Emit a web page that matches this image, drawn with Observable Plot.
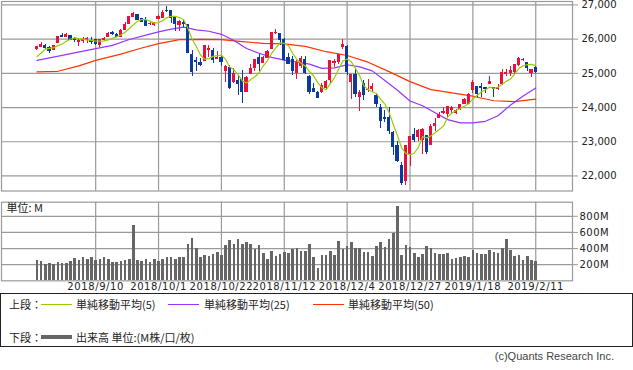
<!DOCTYPE html>
<html><head><meta charset="utf-8">
<script src="https://cdn.jsdelivr.net/npm/d3@7"></script>
<script src="https://cdn.jsdelivr.net/npm/@observablehq/plot@0.6"></script>
<style>
body{margin:0;background:#fff;}
#wrap{position:relative;width:633px;height:370px;overflow:hidden;background:#fff;font-family:"DejaVu Sans",sans-serif;}
#price,#vol{position:absolute;left:0;}
#price{top:0;}
#vol{top:192px;}
#vol g[aria-label="x-axis tick label"] text{letter-spacing:0.6px;}
#vol g[aria-label="y-axis tick label"] text{letter-spacing:0.5px;}
.legend{position:absolute;left:0;top:293px;width:631px;height:52px;border:1px solid #222;font-family:"Noto Sans CJK JP",sans-serif;font-size:11px;color:#222;}
.legend span{position:absolute;line-height:14px;white-space:nowrap;}
.legend i{position:absolute;display:block;}
.copy{position:absolute;right:19px;top:350px;font-family:"Liberation Sans",sans-serif;font-size:11px;color:#444;}
</style></head><body>
<div id="wrap">
  <div id="price"></div>
  <div id="vol"></div>
  <div class="legend">
    <span style="left:8px;top:3px">上段：</span>
    <i style="left:40px;top:10px;width:31px;border-top:1px solid #99cc00"></i>
    <span style="left:75px;top:3px">単純移動平均(5)</span>
    <i style="left:167px;top:10px;width:31px;border-top:1px solid #9933ff"></i>
    <span style="left:203px;top:3px">単純移動平均(25)</span>
    <i style="left:312px;top:10px;width:31px;border-top:1px solid #ff3300"></i>
    <span style="left:347px;top:3px">単純移動平均(50)</span>
    <span style="left:8px;top:36px">下段：</span>
    <i style="left:40px;top:41px;width:31px;border-top:4px solid #666"></i>
    <span style="left:75px;top:36px">出来高 単位:(M株/口/枚)</span>
  </div>
  <div class="copy">(c)Quants Research Inc.</div>
</div>
<script>
// ---- data (DJIA daily, 2018/8/20 - 2019/2/11) ----
const gridIdx = [14, 29, 44, 59, 74, 89, 104, 119];
const dateLabels = ["2018/9/10","2018/10/1","2018/10/22","2018/11/12","2018/12/4","2018/12/27","2019/1/18","2019/2/11"];

const opens = [25700,25772,25810,25730,25685,25880,26094,26061,26090,25990,
25916,25939,25980,25950,25985,25821,25961,26068,26172,26133,
26066,26267,26430,26655,26698,26585,26519,26435,26424,26598,
26627,26833,26810,26636,26404,26467,26422,25522,25367,25301,
25356,25680,25656,25420,25453,25082,25166,24757,24762,24815,
24443,24981,25142,25462,25288,25461,25723,26176,26146,25970,
25441,25388,25003,25220,25397,24900,24550,24420,24450,24560,
24800,25290,25330,25780,25780,24750,24950,24300,24700,24500,
24550,24350,24000,23700,23700,23250,22870,22300,21860,22630,
23200,23150,23060,23176,22900,23474,23680,23850,23800,23940,
23850,23950,24100,24100,24500,24600,24600,24580,24700,24560,
24530,24700,24980,25000,25050,25250,25380,25300,25000,25150];
const highs = [25781,25888,25830,25771,25811,26074,26167,26167,26113,26040,
25998,26055,26035,26036,25998,25985,26039,26201,26211,26173,
26287,26473,26657,26769,26717,26608,26637,26515,26469,26677,
26828,26951,26810,26661,26534,26541,26436,25671,25449,25439,
25800,25800,25726,25641,25500,25230,25216,25147,24916,25076,
24905,25257,25415,25551,25506,25680,26183,26277,26146,26032,
25580,25501,25363,25500,25497,24940,24700,24460,24700,24800,
25380,25410,25540,25980,25800,24950,25150,24500,24800,24830,
24700,24400,24100,23900,24000,23300,23000,22400,22880,23140,
23380,23350,23400,23176,23518,23688,23865,24000,24020,24020,
23950,24100,24250,24400,24800,24600,24700,24600,24900,24600,
24680,25100,25100,25200,25250,25450,25430,25300,25110,25200];
const lows = [25679,25760,25696,25590,25680,25880,26047,26046,25955,25900,
25796,25859,25883,25849,25820,25755,25929,26058,26113,26054,
26062,26267,26430,26655,26533,26473,26370,26396,26374,26598,
26627,26789,26463,26237,26209,26343,25588,24899,25042,25208,
25356,25463,25273,25400,25209,24729,24533,24711,24348,24122,
24443,24981,25066,25065,25275,25455,25723,26129,25827,25338,
25244,24946,24817,25140,24960,24383,24440,24270,24420,24500,
24700,25160,25250,25700,24950,24242,24300,23881,24200,24450,
24450,24000,23400,23550,23200,22600,22400,21712,21712,22270,
22980,23000,22640,22640,22900,23300,23675,23800,23700,23840,
23800,23900,24100,24100,24400,24300,24300,24400,24700,24300,
24500,24650,24900,24900,24950,25200,25350,25050,24880,25000];
const closes = [25759,25822,25734,25657,25790,26050,26064,26125,25987,25965,
25952,25975,25996,25917,25857,25971,25999,26146,26155,26062,
26247,26406,26657,26744,26562,26492,26385,26440,26458,26651,
26774,26828,26627,26447,26487,26431,25599,25053,25340,25251,
25798,25707,25379,25444,25317,25191,24583,24985,24688,24443,
24875,25116,25381,25271,25462,25635,26180,26191,25989,25387,
25286,25081,25289,25413,25017,24466,24465,24286,24640,24749,
25366,25339,25538,25826,25027,24948,24389,24423,24370,24527,
24597,24101,23593,23676,23324,22860,22445,21792,22878,23139,
23062,23327,23346,22686,23433,23531,23787,23879,24002,23996,
23910,24066,24207,24370,24706,24404,24576,24553,24737,24528,
24580,25015,25000,25064,25239,25412,25390,25170,25106,25053];
const volumes = [254,242,200,213,200,225,213,213,242,275,
254,292,267,292,254,267,292,267,225,225,
242,254,267,680,254,242,267,229,267,242,
267,292,292,267,284,292,450,530,400,292,
317,304,329,354,317,442,504,454,517,454,
475,450,392,442,342,267,367,304,329,354,
342,392,404,367,367,454,292,158,317,317,
367,317,492,392,429,475,400,400,354,354,
304,429,475,413,517,592,917,317,442,413,
342,292,329,429,400,342,329,329,342,267,
279,292,304,292,379,342,329,329,379,354,
342,404,517,379,304,317,254,304,254,242];
const ma5 = [25489,25594,25708,25728,25752,25811,25859,25937,26003,26038,
26019,26001,25975,25961,25939,25943,25948,25978,26026,26067,
26122,26203,26305,26423,26523,26572,26568,26525,26467,26485,
26542,26630,26668,26665,26633,26564,26318,26003,25782,25535,
25408,25430,25495,25516,25529,25408,25183,25104,24953,24778,
24715,24821,24901,25017,25221,25373,25586,25748,25891,25876,
25807,25587,25406,25291,25217,25053,24930,24729,24575,24521,
24701,24876,25126,25364,25419,25336,25146,24923,24631,24531,
24461,24404,24238,24099,23858,23511,23180,22819,22660,22623,
22663,22840,23150,23112,23171,23265,23357,23463,23726,23839,
23915,23971,24036,24110,24252,24351,24453,24522,24595,24560,
24595,24683,24772,24837,24980,25146,25221,25255,25263,25226];
const ma25Idx = [0,6,14,18,22,26,29,32,35,38,41,44,47,50,53,56,59,62,65,68,71,74,77,80,83,86,89,92,95,98,101,104,107,110,113,116,119];
const ma25Val = [25380,25526,25722,25819,25990,26116,26211,26290,26349,26273,26230,26141,25959,25727,25587,25468,25388,25331,25271,25145,25160,25251,25187,25072,24792,24507,24191,24051,23847,23646,23550,23549,23598,23758,24076,24337,24571];
const ma50Idx = [0,5,10,14,20,25,29,34,39,44,49,54,59,64,69,74,79,84,89,94,99,104,109,114,119];
const ma50Val = [25040,25060,25220,25380,25560,25740,25868,25985,25995,25985,25928,25875,25859,25786,25632,25521,25326,25049,24757,24522,24428,24331,24199,24175,24246];

const priceTicks = [22000,23000,24000,25000,26000,27000];
const priceTickLabels = ["22,000","23,000","24,000","25,000","26,000","27,000"];
const volTicks = [200,400,600,800];
const volTickLabels = ["200M","400M","600M","800M"];

// ---- build ----
const UP = "#e8103c", DOWN = "#0b3a9e", GRID = "#9a9a9a";
const XDOM = [-8.47, 127.77];
const candles = closes.map((c, i) => ({i, o: opens[i], h: highs[i], l: lows[i], c, col: c >= opens[i] ? UP : DOWN}));
const m25 = ma25Idx.map((x, k) => ({x, y: ma25Val[k]}));
const m50 = ma50Idx.map((x, k) => ({x, y: ma50Val[k]}));
const pMap = new Map(priceTicks.map((t, k) => [t, priceTickLabels[k]]));
const vMap = new Map(volTicks.map((t, k) => [t, volTickLabels[k]]));
const dMap = new Map(gridIdx.map((t, k) => [t, dateLabels[k]]));

const price = Plot.plot({
  width: 633, height: 192,
  marginLeft: 1, marginRight: 61, marginTop: 1, marginBottom: 1.5,
  x: {type: "linear", domain: XDOM, axis: null},
  y: {domain: [21560, 27100], axis: null},
  color: {type: "identity"},
  style: {fontFamily: "DejaVu Sans", fontSize: "10px", background: "white", overflow: "visible"},
  marks: [
    Plot.ruleY(priceTicks, {stroke: GRID, strokeWidth: 1.2}),
    Plot.ruleX(gridIdx, {stroke: GRID, strokeWidth: 1.2}),
    Plot.frame({stroke: GRID, strokeWidth: 1.2}),
    Plot.axisY({anchor: "right", ticks: priceTicks, tickFormat: d => pMap.get(d), tickSize: 5, tickPadding: 4, stroke: GRID, fill: "#222"}),
    Plot.line(m50, {x: "x", y: "y", stroke: "#ff3300", strokeWidth: 1.2}),
    Plot.line(m25, {x: "x", y: "y", stroke: "#9933ff", strokeWidth: 1.2}),
    Plot.ruleX(candles, {x: "i", y1: "l", y2: "h", stroke: "col", strokeWidth: 1, shapeRendering: "crispEdges"}),
    Plot.rect(candles, {x1: d => d.i - 0.38, x2: d => d.i + 0.38, y1: "o", y2: "c", fill: "col", insetTop: -0.5, insetBottom: -0.5, shapeRendering: "crispEdges"}),
    Plot.line(ma5, {x: (d, i) => i, y: d => d, stroke: "#99cc00", strokeWidth: 1.2})
  ]
});
document.getElementById("price").appendChild(price);

const vol = Plot.plot({
  width: 633, height: 100,
  marginLeft: 1, marginRight: 61, marginTop: 9.7, marginBottom: 11.7,
  x: {type: "linear", domain: XDOM, axis: null},
  y: {domain: [0, 975], axis: null},
  style: {fontFamily: "DejaVu Sans", fontSize: "10px", background: "white", overflow: "visible"},
  marks: [
    Plot.ruleY(volTicks, {stroke: GRID, strokeWidth: 1.2}),
    Plot.ruleX(gridIdx, {stroke: GRID, strokeWidth: 1.2}),
    Plot.frame({stroke: GRID, strokeWidth: 1.2}),
    Plot.ruleX(volumes, {x: (d, i) => i, y: d => d, stroke: "#666", strokeWidth: 2.6, shapeRendering: "crispEdges"}),
    Plot.axisY({anchor: "right", ticks: volTicks, tickFormat: d => vMap.get(d), tickSize: 5, tickPadding: 2, stroke: GRID, fill: "#222"}),
    Plot.axisX({anchor: "bottom", ticks: gridIdx, tickFormat: d => dMap.get(d), tickSize: 0, tickPadding: 2, fill: "#222"}),
    Plot.text(["単位: M"], {frameAnchor: "top-left", textAnchor: "start", lineAnchor: "top", dx: 5, dy: 1.5, fill: "#222", fontSize: 11, fontFamily: "Noto Sans CJK JP"})
  ]
});
document.getElementById("vol").appendChild(vol);
</script>
</body></html>
